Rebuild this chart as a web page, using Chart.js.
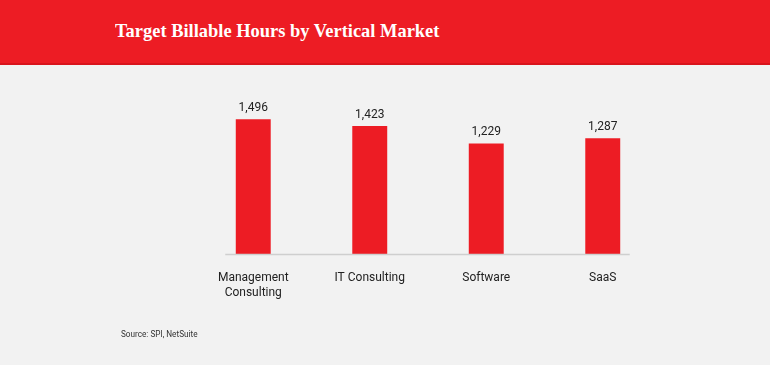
<!DOCTYPE html>
<html>
<head>
<meta charset="utf-8">
<script src="https://cdn.jsdelivr.net/npm/chart.js@4"></script>
<style>
  html, body { margin: 0; padding: 0; }
  body { width: 770px; height: 365px; background: #f2f2f2; position: relative; overflow: hidden; }
  .header {
    position: absolute; left: 0; top: 0; width: 770px; height: 63px;
    background: #ed1c24; border-bottom: 2px solid #d9141c;
  }
  .header h1 {
    position: absolute; left: 115px; top: 20px; margin: 0;
    font: bold 19px "Liberation Serif", serif; line-height: 22px; color: #fff;
    white-space: nowrap; transform-origin: 0 0;
  }
  .source {
    position: absolute; left: 121px; top: 329px;
    font: 8.2px Roboto, sans-serif; color: #333;
  }
  #wrap { position: absolute; left: 0; top: 0; width: 770px; height: 365px; }
</style>
</head>
<body>
<div class="header"><h1 id="title">Target Billable Hours by Vertical Market</h1></div>
<div id="wrap"><canvas id="chart"></canvas></div>
<div class="source">Source: SPI, NetSuite</div>
<script>
const categories = [['Management', 'Consulting'], 'IT Consulting', 'Software', 'SaaS'];
const hours = [1496, 1423, 1229, 1287];
const yMax = 1800;

// squeeze title to the width it has in the picture
const t = document.getElementById('title');
t.style.transform = 'scaleX(' + (324 / t.offsetWidth) + ')';

const extras = {
    id: 'extras',
    afterDatasetsDraw(chart) {
        const ctx = chart.ctx;
        const bars = chart.getDatasetMeta(0).data;
        const bottom = chart.chartArea.bottom;
        ctx.save();
        // baseline
        ctx.strokeStyle = '#cfcfcf';
        ctx.lineWidth = 1.5;
        ctx.beginPath();
        ctx.moveTo(bars[0].x - 28, bottom + 0.5);
        ctx.lineTo(bars[bars.length - 1].x + 27, bottom + 0.5);
        ctx.stroke();
        // value labels
        ctx.fillStyle = '#222';
        ctx.font = '12px Roboto, sans-serif';
        ctx.textAlign = 'center';
        ctx.textBaseline = 'middle';
        bars.forEach((b, i) => {
            ctx.fillText(hours[i].toLocaleString('en-US'), b.x, b.y - 11);
        });
        ctx.restore();
    }
};

new Chart(document.getElementById('chart'), {
    type: 'bar',
    data: {
        labels: categories,
        datasets: [{
            data: hours,
            backgroundColor: '#ed1c24',
            borderWidth: 0,
            barPercentage: 0.3,
            categoryPercentage: 1
        }]
    },
    options: {
        responsive: true,
        maintainAspectRatio: false,
        animation: false,
        layout: { padding: { left: 195, right: 109, top: 92, bottom: 0 } },
        scales: {
            x: {
                grid: { display: false },
                border: { display: false },
                ticks: {
                    color: '#222',
                    font: { family: 'Roboto', size: 12 },
                    padding: 9,
                    maxRotation: 0
                },
                afterFit(scale) { scale.height = 111; }
            },
            y: {
                display: false,
                min: 0,
                max: yMax
            }
        },
        plugins: {
            legend: { display: false },
            tooltip: { enabled: false }
        }
    },
    plugins: [extras]
});
</script>
</body>
</html>
